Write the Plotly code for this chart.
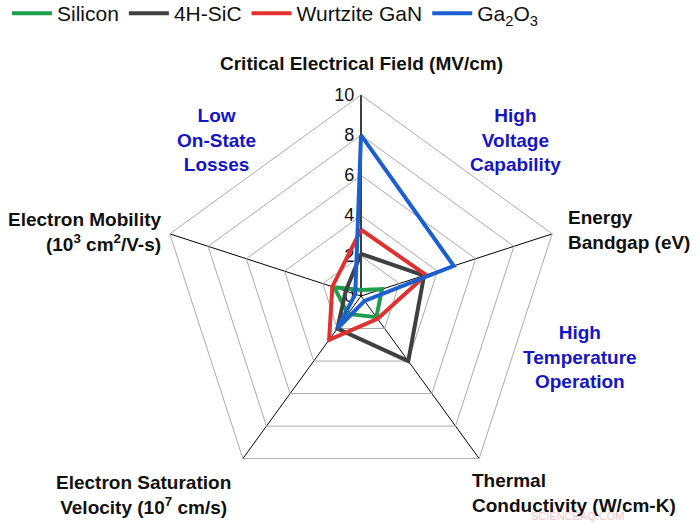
import plotly.graph_objects as go

categories = ["Critical Electrical Field", "Energy Bandgap", "Thermal Conductivity",
              "Electron Saturation Velocity", "Electron Mobility"]
series_names = ["Silicon", "4H-SiC", "Wurtzite GaN", "Ga<sub>2</sub>O<sub>3</sub>"]
silicon = [0.3, 1.1, 1.3, 1.1, 1.4]
sic = [2.1, 3.3, 4.0, 2.0, 0.8]
gan = [3.3, 3.4, 1.4, 2.7, 1.5]
ga2o3 = [8.0, 4.85, 0.3, 2.0, 0.3]
colors = ["#1f9e4f", "#404040", "#e0302f", "#1b5fd1"]
radial_ticks = [0, 2, 4, 6, 8, 10]

W, H = 700, 525
cx, cy, R = 361, 296, 201

fig = go.Figure()
for name, vals, col in zip(series_names, [silicon, sic, gan, ga2o3], colors):
    fig.add_trace(go.Scatterpolar(
        r=vals + vals[:1], theta=categories + categories[:1], mode="lines", name=name,
        line=dict(color=col, width=4), hoverinfo="skip"))

def px(x, y):
    return x / W, 1 - y / H

ann = []
bold_black = dict(family="Liberation Sans, Arial, sans-serif", size=19, color="#111111")
blue = dict(family="Liberation Sans, Arial, sans-serif", size=19, color="#1515c8")

def add(text, x, y, xa, ya, font, align):
    X, Y = px(x, y)
    ann.append(dict(text=text, x=X, y=Y, xref="paper", yref="paper", xanchor=xa,
                    yanchor=ya, font=font, align=align, showarrow=False))

add("<b>Critical Electrical Field (MV/cm)</b>", 361, 63, "center", "middle", bold_black, "center")
add("<b>Energy<br>Bandgap (eV)</b>", 566, 230, "left", "middle", bold_black, "left")
add("<b>Thermal<br>Conductivity (W/cm-K)</b>", 470, 493, "left", "middle", bold_black, "left")
add("<b>Electron Saturation<br>Velocity (10<sup>7</sup> cm/s)</b>", 143, 495, "center", "middle", bold_black, "center")
add("<b>Electron Mobility<br>(10<sup>3</sup> cm<sup>2</sup>/V-s)</b>", 164, 232, "right", "middle", bold_black, "right")
add("<b>Low<br>On-State<br>Losses</b>", 216, 140, "center", "middle", blue, "center")
add("<b>High<br>Voltage<br>Capability</b>", 515, 140, "center", "middle", blue, "center")
add("<b>High<br>Temperature<br>Operation</b>", 580, 357, "center", "middle", blue, "center")
add("SCIENCEAQ.COM", 578, 516, "center", "middle",
    dict(family="Liberation Sans, Arial, sans-serif", size=11, color="rgba(230,150,150,0.6)"), "center")

fig.update_layout(
    width=W, height=H,
    margin=dict(l=0, r=0, t=0, b=0, autoexpand=False),
    paper_bgcolor="white",
    showlegend=True,
    legend=dict(orientation="h", x=7 / W, y=1 + 7 / H, xanchor="left", yanchor="top",
                font=dict(family="Liberation Sans Narrow, Arial Narrow, sans-serif", size=21, color="#111111"),
                bgcolor="rgba(0,0,0,0)", itemwidth=40),
    polar=dict(
        domain=dict(x=[(cx - R) / W, (cx + R) / W], y=[1 - (cy + R) / H, 1 - (cy - R) / H]),
        bgcolor="white",
        gridshape="linear",
        radialaxis=dict(range=[0, 10], tickvals=radial_ticks, angle=90, side="counterclockwise",
                        tickangle=90,
                        showline=True, linecolor="black", linewidth=1,
                        gridcolor="#ababab", gridwidth=1, ticks="",
                        tickfont=dict(family="Liberation Sans, Arial, sans-serif", size=18, color="#111111"),
                        layer="below traces"),
        angularaxis=dict(direction="clockwise", rotation=90, showticklabels=False, ticks="",
                         showgrid=True, gridcolor="black", gridwidth=1,
                         showline=True, linecolor="#ababab", linewidth=1, layer="below traces"),
    ),
    annotations=ann,
)

fig.write_html("out.html", config={"displayModeBar": False},
               post_script=["document.body.style.margin='0px';"])
